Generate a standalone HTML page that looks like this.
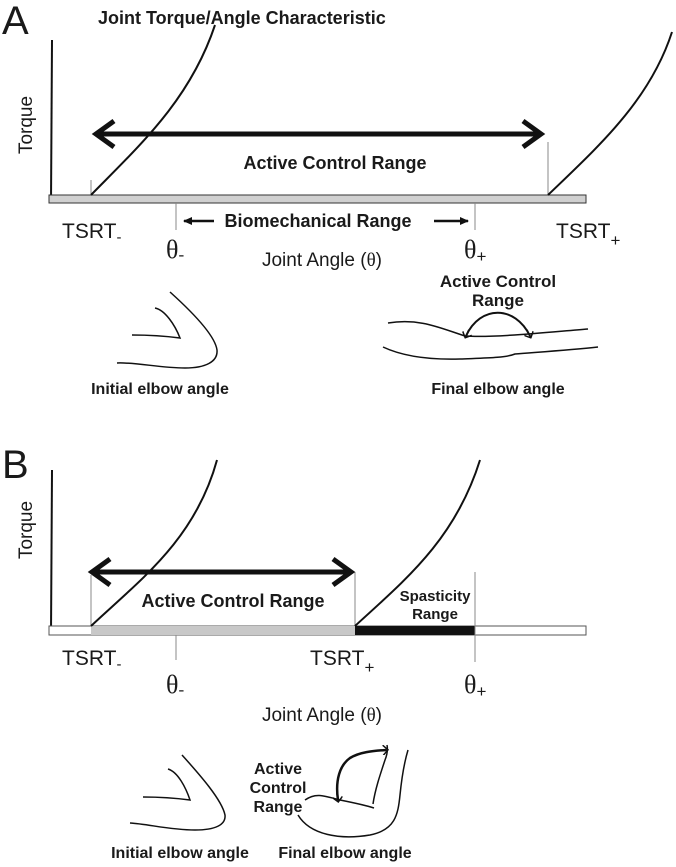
<!DOCTYPE html>
<html><head><meta charset="utf-8"><style>
html,body{margin:0;padding:0;background:#fff}
svg{display:block}
.b{font-family:"Liberation Sans",Arial,sans-serif;font-weight:bold;fill:#1a1a1a}
.r{font-family:"Liberation Sans",Arial,sans-serif;fill:#1a1a1a}
.s{font-family:"Liberation Serif",serif;fill:#1a1a1a}
</style></head><body>
<svg width="676" height="867" viewBox="0 0 676 867" xmlns="http://www.w3.org/2000/svg">
<defs>
<marker id="ah" markerWidth="10" markerHeight="10" refX="8" refY="5" orient="auto" markerUnits="userSpaceOnUse"><path d="M0,1 L9,5 L0,9 Z" fill="#111"/></marker>
<marker id="sh" markerWidth="10" markerHeight="10" refX="7" refY="5" orient="auto-start-reverse" markerUnits="userSpaceOnUse"><path d="M0,5 L9,5 M4,0 L9,5 L4,10" fill="none" stroke="#111" stroke-width="1.5"/></marker>
</defs>
<!-- Panel A -->
<text x="2" y="34" class="r" font-size="40">A</text>
<text x="98" y="24" class="b" font-size="18">Joint Torque/Angle Characteristic</text>
<text class="r" font-size="19" transform="translate(32,125) rotate(-90)" text-anchor="middle">Torque</text>
<line x1="52" y1="40" x2="51" y2="203" stroke="#111" stroke-width="2"/>
<rect x="49" y="195" width="537" height="8" fill="#d0d0d0" stroke="#333" stroke-width="1"/>
<line x1="91" y1="180" x2="91" y2="195" stroke="#888" stroke-width="1"/>
<line x1="548" y1="142" x2="548" y2="195" stroke="#888" stroke-width="1"/>
<line x1="176" y1="203" x2="176" y2="230" stroke="#888" stroke-width="1"/>
<line x1="475" y1="203" x2="475" y2="230" stroke="#888" stroke-width="1"/>
<path d="M91,195 C140,145 190,100 215,25" fill="none" stroke="#111" stroke-width="2"/>
<path d="M548,195 C600,145 650,100 672,32" fill="none" stroke="#111" stroke-width="2"/>
<line x1="97" y1="134" x2="540" y2="134" stroke="#111" stroke-width="5"/>
<path d="M114,121 L96,134 L114,147" fill="none" stroke="#111" stroke-width="5"/>
<path d="M523,121 L541,134 L523,147" fill="none" stroke="#111" stroke-width="5"/>
<text x="335" y="169" class="b" font-size="18" text-anchor="middle">Active Control Range</text>
<text x="62" y="238" class="r" font-size="21">TSRT<tspan font-size="15" dy="4">-</tspan></text>
<text x="556" y="238" class="r" font-size="21">TSRT<tspan font-size="17" dy="8">+</tspan></text>
<line x1="214" y1="221" x2="184" y2="221" stroke="#111" stroke-width="2.5" marker-end="url(#ah)"/>
<text x="318" y="227" class="b" font-size="18" text-anchor="middle">Biomechanical Range</text>
<line x1="434" y1="221" x2="468" y2="221" stroke="#111" stroke-width="2.5" marker-end="url(#ah)"/>
<text x="166" y="258" class="s" font-size="26">θ<tspan font-size="17" dy="2">-</tspan></text>
<text x="464" y="258" class="s" font-size="26">θ<tspan font-size="17" dy="4" font-family="Liberation Sans">+</tspan></text>
<text x="322" y="266" class="r" font-size="19" text-anchor="middle">Joint Angle (<tspan font-family="Liberation Serif">θ</tspan>)</text>
<!-- A elbows -->
<path d="M170,292 C190,310 215,335 217,350 C218,362 205,368 185,368 C160,368 135,362 117,363" fill="none" stroke="#111" stroke-width="1.5"/>
<path d="M155,308 C165,310 175,325 180,338 C165,336 145,335 132,335" fill="none" stroke="#111" stroke-width="1.5"/>
<text x="498" y="287" class="b" font-size="17" text-anchor="middle">Active Control</text>
<text x="498" y="306" class="b" font-size="17" text-anchor="middle">Range</text>
<path d="M388,323 C420,318 440,328 465,336 C495,338 550,332 588,329" fill="none" stroke="#111" stroke-width="1.5"/>
<path d="M383,347 C400,355 425,360 460,359 C485,358 505,358 515,354 C540,352 570,350 598,347" fill="none" stroke="#111" stroke-width="1.5"/>
<path d="M466,336 C480,305 515,305 530,336" fill="none" stroke="#111" stroke-width="2" marker-start="url(#sh)" marker-end="url(#sh)"/>
<text x="160" y="394" class="b" font-size="16" text-anchor="middle">Initial elbow angle</text>
<text x="498" y="394" class="b" font-size="16" text-anchor="middle">Final elbow angle</text>
<!-- Panel B -->
<text x="2" y="478" class="r" font-size="40">B</text>
<text class="r" font-size="19" transform="translate(32,530) rotate(-90)" text-anchor="middle">Torque</text>
<line x1="52" y1="470" x2="51" y2="634" stroke="#111" stroke-width="2"/>
<rect x="49" y="626" width="537" height="9" fill="#fff" stroke="#555" stroke-width="1"/>
<rect x="91" y="626" width="264" height="9" fill="#c8c8c8"/>
<rect x="355" y="626" width="120" height="9" fill="#111"/>
<line x1="91" y1="575" x2="91" y2="626" stroke="#888" stroke-width="1"/>
<line x1="355" y1="572" x2="355" y2="626" stroke="#888" stroke-width="1"/>
<line x1="176" y1="635" x2="176" y2="660" stroke="#888" stroke-width="1"/>
<line x1="475" y1="572" x2="475" y2="662" stroke="#888" stroke-width="1"/>
<path d="M91,626 C140,580 195,540 217,460" fill="none" stroke="#111" stroke-width="2"/>
<path d="M355,626 C405,580 455,540 480,460" fill="none" stroke="#111" stroke-width="2"/>
<line x1="93" y1="572" x2="350" y2="572" stroke="#111" stroke-width="5"/>
<path d="M110,559 L92,572 L110,585" fill="none" stroke="#111" stroke-width="5"/>
<path d="M333,559 L351,572 L333,585" fill="none" stroke="#111" stroke-width="5"/>
<text x="233" y="607" class="b" font-size="18" text-anchor="middle">Active Control Range</text>
<text x="435" y="601" class="b" font-size="15" text-anchor="middle">Spasticity</text>
<text x="435" y="619" class="b" font-size="15" text-anchor="middle">Range</text>
<text x="62" y="665" class="r" font-size="21">TSRT<tspan font-size="15" dy="4">-</tspan></text>
<text x="310" y="665" class="r" font-size="21">TSRT<tspan font-size="17" dy="8">+</tspan></text>
<text x="166" y="693" class="s" font-size="26">θ<tspan font-size="17" dy="2">-</tspan></text>
<text x="464" y="693" class="s" font-size="26">θ<tspan font-size="17" dy="4" font-family="Liberation Sans">+</tspan></text>
<text x="322" y="721" class="r" font-size="19" text-anchor="middle">Joint Angle (<tspan font-family="Liberation Serif">θ</tspan>)</text>
<!-- B elbows -->
<path d="M182,755 C200,775 222,800 225,815 C226,825 215,830 195,830 C170,830 148,824 130,823" fill="none" stroke="#111" stroke-width="1.5"/>
<path d="M168,769 C178,772 186,788 190,800 C175,798 155,797 143,797" fill="none" stroke="#111" stroke-width="1.5"/>
<text x="278" y="774" class="b" font-size="16" text-anchor="middle">Active</text>
<text x="278" y="793" class="b" font-size="16" text-anchor="middle">Control</text>
<text x="278" y="812" class="b" font-size="16" text-anchor="middle">Range</text>
<path d="M305,800 C315,793 322,795 340,800 C355,803 365,805 374,808" fill="none" stroke="#111" stroke-width="1.5"/>
<path d="M373,804 C375,790 380,775 385,760 C387,755 388,750 387,745" fill="none" stroke="#111" stroke-width="1.5"/>
<path d="M298,815 C310,835 340,840 370,835 C395,830 398,815 400,795 C402,775 405,760 408,750" fill="none" stroke="#111" stroke-width="1.5"/>
<path d="M338,800 C335,780 340,765 350,758 C360,752 372,751 386,750" fill="none" stroke="#111" stroke-width="2.5" marker-start="url(#sh)" marker-end="url(#sh)"/>
<text x="180" y="858" class="b" font-size="16" text-anchor="middle">Initial elbow angle</text>
<text x="345" y="858" class="b" font-size="16" text-anchor="middle">Final elbow angle</text>
</svg>
</body></html>
